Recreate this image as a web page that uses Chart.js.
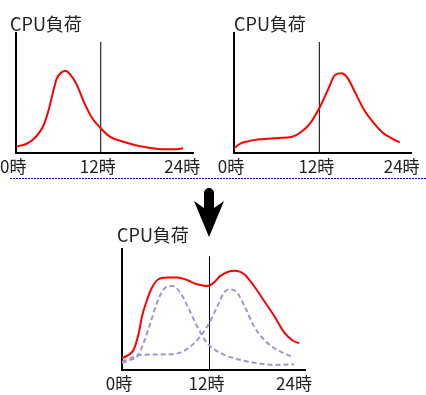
<!DOCTYPE html>
<html>
<head>
<meta charset="utf-8">
<script src="https://cdn.jsdelivr.net/npm/chart.js@4"></script>
<style>
    body { margin: 0; background: #fff; }
    #page { position: relative; width: 426px; height: 395px; overflow: hidden; }
    canvas, svg { position: absolute; }
</style>
</head>
<body>
<div id="page">
    <canvas id="morningChart" width="213" height="180" style="left:0;top:0"></canvas>
    <canvas id="eveningChart" width="213" height="180" style="left:213px;top:0"></canvas>
    <canvas id="totalChart" width="220" height="195" style="left:100px;top:200px"></canvas>
    <svg width="426" height="395" style="left:0;top:0">
        <line x1="10" y1="178.5" x2="426" y2="178.5" stroke="#0000cc" stroke-width="1" stroke-dasharray="2 1" />
        <path d="M204,193 A5,5 0 0 1 214,193 L214,208 L224,201 L209,237 L194,201 L204,208 Z" fill="#000" />
    </svg>
</div>
<script>
// hour of day / cpu load (0-100)
const tickHours = [0, 12, 24];
const tickUnit = "時";
const titleText = "CPU負荷";
const noonHour = 12;

const morningHours = [0, 1.4, 2.3, 3.2, 3.9, 4.6, 5.3, 5.75, 6.4, 7.0, 7.6, 8.5, 9.7, 10.8, 12, 13.3, 15.2, 17.9, 20.7, 22.5, 23.7];
const morningLoad = [5.3, 7.5, 10.8, 16.4, 23.3, 35.8, 52.5, 62, 67, 68.6, 66, 58, 41.4, 28.9, 20.6, 13.6, 9.4, 5.3, 3.1, 3.1, 3.9];

const eveningHours = [0, 0.8, 1.7, 3.6, 6.3, 8.2, 9.3, 10.7, 12.1, 13.2, 14.2, 15.1, 16.0, 17.1, 18.3, 19.7, 21.0, 22.2, 23.3];
const eveningLoad = [3.9, 7.5, 9.4, 11.4, 12.5, 13.6, 16.9, 24.7, 38.6, 52.5, 65, 66.4, 62.2, 49.7, 35.8, 24.7, 16.4, 12.2, 8.9];

const totalHours = [0, 0.9, 1.6, 2.3, 2.75, 3.45, 4.1, 5.0, 6.2, 7.6, 8.9, 10.3, 11.7, 12.6, 13.5, 15.4, 16.8, 18.1, 19.5, 20.9, 22.3, 23.4, 24.3];
const totalLoad = [9.7, 12.5, 16.7, 30.6, 44.4, 58.3, 68, 75, 76.4, 76.4, 74.4, 70.8, 69.4, 72.2, 77.8, 82, 79, 69.4, 57, 44.4, 30.6, 24.4, 22.2];

const partAHours = [0, 1.15, 2.05, 2.96, 3.9, 4.8, 5.7, 6.9, 8.0, 9.2, 10.3, 11.7, 13.1, 15.4, 18.1, 20.9, 23.6];
const partALoad = [5.6, 8.3, 11.1, 22.2, 38.9, 55.6, 66.7, 69.4, 63.9, 50, 36.1, 22.2, 15.3, 9.7, 6.1, 4.2, 4.7];

const partBHours = [0, 1.15, 2.5, 6.2, 8.0, 9.9, 11.7, 13.1, 14.0, 14.7, 15.8, 16.8, 18.1, 19.5, 20.9, 23.4];
const partBLoad = [6.9, 9.7, 12.5, 13, 14.4, 22.2, 36.1, 52.8, 63.9, 66.7, 63.9, 52.8, 36.1, 25, 18, 10.6];

const FONT = "'Noto Sans CJK JP', 'Noto Sans', sans-serif";

function toPoints(hours, load) {
    return hours.map((h, i) => ({ x: h, y: load[i] }));
}

function curve(hours, load, color, dash) {
    return {
        data: toPoints(hours, load),
        borderColor: color,
        borderWidth: 2,
        borderDash: dash || [],
        pointRadius: 0,
        tension: 0.4,
        cubicInterpolationMode: "monotone",
        fill: false,
    };
}

function makeChart(id, lines, cfg) {
    const noonLine = {
        data: [{ x: noonHour, y: 0 }, { x: noonHour, y: cfg.noonTop }],
        borderColor: "#000",
        borderWidth: 1,
        pointRadius: 0,
        order: 5,
    };

    return new Chart(document.getElementById(id), {
        type: "line",
        data: { datasets: [noonLine, ...lines] },
        options: {
            responsive: false,
            animation: false,
            events: [],
            layout: { padding: cfg.padding, autoPadding: false },
            plugins: {
                legend: { display: false },
                tooltip: { enabled: false },
                title: {
                    display: true,
                    text: titleText,
                    align: "start",
                    color: "#222",
                    font: { family: FONT, size: 18, weight: "normal", lineHeight: 1 },
                    padding: cfg.titlePadding,
                },
            },
            scales: {
                x: {
                    type: "linear",
                    min: 0,
                    max: cfg.xMax,
                    afterBuildTicks: (scale) => {
                        scale.ticks = tickHours.map((v) => ({ value: v }));
                    },
                    afterFit: (scale) => {
                        scale.height = cfg.xAxisHeight;
                    },
                    grid: { display: false, drawTicks: false },
                    border: { display: true, color: "#000", width: 2 },
                    ticks: {
                        color: "#222",
                        padding: 3,
                        labelOffset: -3,
                        maxRotation: 0,
                        autoSkip: false,
                        font: { family: FONT, size: 17 },
                        callback: (value) => value + tickUnit,
                    },
                },
                y: {
                    min: 0,
                    max: 100,
                    afterFit: (scale) => {
                        scale.width = cfg.yGap;
                    },
                    grid: { display: false, drawTicks: false },
                    border: { display: true, color: "#000", width: 2 },
                    ticks: { display: false },
                },
            },
        },
    });
}

makeChart("morningChart", [curve(morningHours, morningLoad, "#ff0000")], {
    padding: { left: 10, top: 15, right: 20, bottom: 0 },
    titlePadding: { top: 0, bottom: 0 },
    yGap: 0,
    xAxisHeight: 27,
    xMax: 25.1,
    noonTop: 92.5,
});

makeChart("eveningChart", [curve(eveningHours, eveningLoad, "#ff0000")], {
    padding: { left: 21, top: 15, right: 10, bottom: 0 },
    titlePadding: { top: 0, bottom: 0 },
    yGap: 0,
    xAxisHeight: 27,
    xMax: 24.96,
    noonTop: 92.5,
});

makeChart("totalChart", [
    curve(totalHours, totalLoad, "#ff0000"),
    curve(partAHours, partALoad, "#9999cc", [5, 3]),
    curve(partBHours, partBLoad, "#9999cc", [5, 3]),
], {
    padding: { left: 17, top: 26, right: 15, bottom: 0 },
    titlePadding: { top: 0, bottom: 5 },
    yGap: 5,
    xAxisHeight: 25,
    xMax: 25.1,
    noonTop: 94,
});
</script>
</body>
</html>
